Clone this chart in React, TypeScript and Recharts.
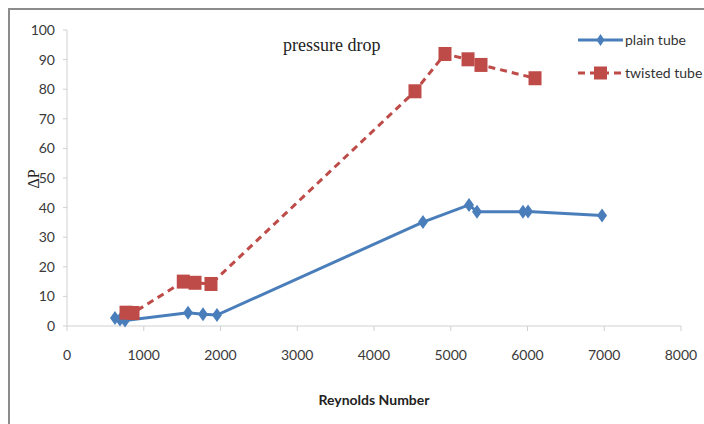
import { LineChart, Line, XAxis, YAxis } from 'recharts'

// Reynolds number / pressure drop readings
const plainRe = [625, 690, 756, 1577, 1772, 1954, 4638, 5238, 5342, 5941, 6007, 6971]
const plainDp = [2.7, 2.2, 1.9, 4.5, 4.0, 3.7, 35.1, 40.9, 38.6, 38.6, 38.7, 37.3]
const twistedRe = [769, 860, 1515, 1668, 1876, 4534, 4925, 5225, 5394, 6098]
const twistedDp = [4.5, 4.4, 15.0, 14.6, 14.2, 79.3, 91.9, 90.1, 88.2, 83.7]

const xTicks = [0, 1000, 2000, 3000, 4000, 5000, 6000, 7000, 8000]
const yTicks = [0, 10, 20, 30, 40, 50, 60, 70, 80, 90, 100]

const plain = plainRe.map((re, i) => ({ re, dp: plainDp[i] }))
const twisted = twistedRe.map((re, i) => ({ re, dp: twistedDp[i] }))

const BLUE = '#4a7ebb'
const RED = '#be4b48'
const FONT = "Lato, 'Liberation Sans', sans-serif"

const Diamond = ({ cx, cy }: { cx?: number; cy?: number }) => {
  if (cx == null || cy == null) return null
  return <path d={`M${cx},${cy - 7} L${cx + 5},${cy} L${cx},${cy + 7} L${cx - 5},${cy} Z`} fill={BLUE} />
}

const Square = ({ cx, cy }: { cx?: number; cy?: number }) => {
  if (cx == null || cy == null) return null
  return <rect x={cx - 6.5} y={cy - 7} width={13} height={14} fill={RED} />
}

// legend drawn on its own, Excel style
const LegendBox = () => (
  <svg width={130} height={60} style={{ position: 'absolute', left: 576, top: 32 }}>
    <line x1={2} y1={8} x2={47} y2={8} stroke={BLUE} strokeWidth={3} />
    <path d="M24.5,2 L28.5,8 L24.5,14 L20.5,8 Z" fill={BLUE} />
    <text x={49} y={13} fontSize={14} fill="#333" fontFamily={FONT}>plain tube</text>
    <line x1={2} y1={41} x2={47} y2={41} stroke={RED} strokeWidth={3} strokeDasharray="7 5" />
    <rect x={18} y={34.5} width={13} height={13} fill={RED} />
    <text x={49} y={46} fontSize={14} fill="#333" fontFamily={FONT}>twisted tube</text>
  </svg>
)

export default function App() {
  return (
    <div style={{ position: 'absolute', left: 0, top: 0, width: 704, height: 424, background: '#fff' }}>
      <div style={{
        position: 'absolute', left: 8, top: 8, right: 0, bottom: 0,
        borderTop: '2px solid #8c8c8c', borderLeft: '2px solid #8c8c8c',
      }} />
      <div style={{ position: 'absolute', left: 0, top: 0 }}>
        <LineChart width={704} height={424} margin={{ top: 30, right: 23, left: 17, bottom: 38 }}>
          <XAxis
            type="number"
            dataKey="re"
            domain={[0, 8000]}
            ticks={xTicks}
            allowDataOverflow
            height={60}
            tickSize={5}
            tickMargin={19}
            stroke="#d0d0d0"
            tick={{ fill: '#3a3a3a', fontSize: 14, fontFamily: FONT }}
            label={{
              value: 'Reynolds Number', position: 'bottom', offset: 9,
              style: { fill: '#222', fontSize: 14, fontWeight: 'bold', fontFamily: FONT },
            }}
          />
          <YAxis
            type="number"
            domain={[0, 100]}
            ticks={yTicks}
            width={50}
            tickSize={4}
            tickMargin={8}
            stroke="#d0d0d0"
            tick={{ fill: '#3a3a3a', fontSize: 14, fontFamily: FONT }}
            label={{
              content: () => (
                <text x={33} y={179} transform="rotate(-90 33 179)" textAnchor="middle"
                  dominantBaseline="central" fontSize={16} fill="#222" fontFamily="'Liberation Serif', serif">
                  ΔP
                </text>
              ),
            }}
          />
          <Line
            data={plain}
            dataKey="dp"
            name="plain tube"
            stroke={BLUE}
            strokeWidth={3}
            dot={<Diamond />}
            activeDot={false}
            isAnimationActive={false}
          />
          <Line
            data={twisted}
            dataKey="dp"
            name="twisted tube"
            stroke={RED}
            strokeWidth={3}
            strokeDasharray="7 5"
            dot={<Square />}
            activeDot={false}
            isAnimationActive={false}
          />
        </LineChart>
      </div>
      <div style={{
        position: 'absolute', left: 283, top: 35, fontFamily: "'Liberation Serif', serif",
        fontSize: 18, color: '#222',
      }}>
        pressure drop
      </div>
      <LegendBox />
    </div>
  )
}
